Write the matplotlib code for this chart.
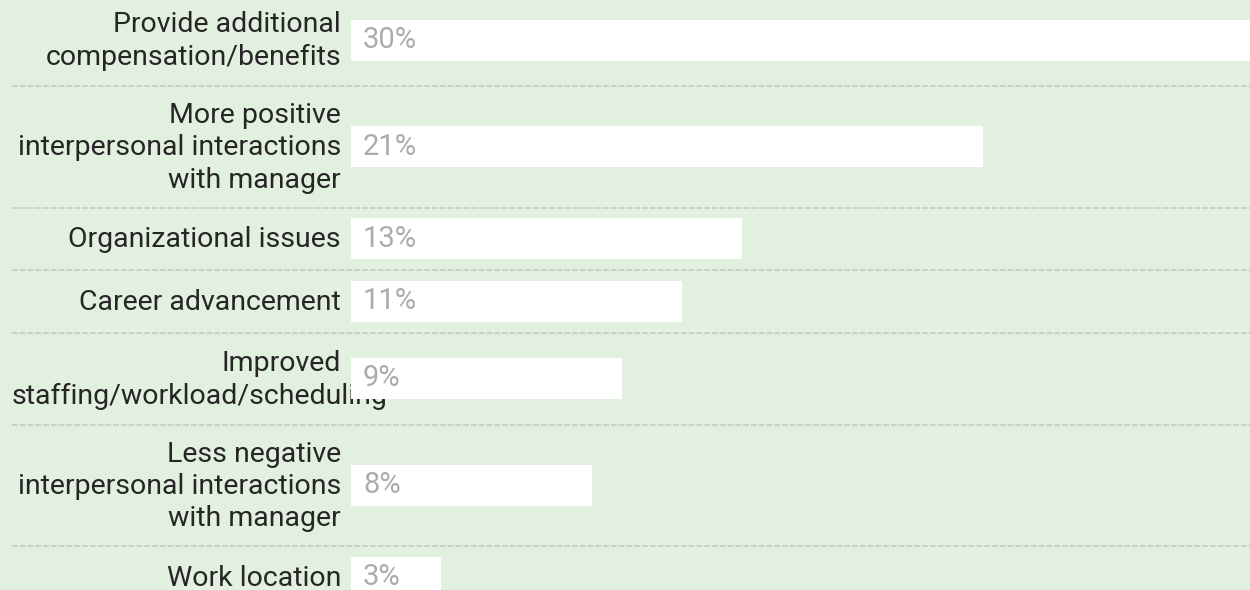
import matplotlib
matplotlib.use("Agg")
import matplotlib.pyplot as plt
from matplotlib.transforms import blended_transform_factory

# data
labels = [
    "Provide additional\ncompensation/benefits",
    "More positive\ninterpersonal interactions\nwith manager",
    "Organizational issues",
    "Career advancement",
    "Improved\nstaffing/workload/scheduling",
    "Less negative\ninterpersonal interactions\nwith manager",
    "Work location",
]
values = [30, 21, 13, 11, 9, 8, 3]
value_labels = ["30%", "21%", "13%", "11%", "9%", "8%", "3%"]

BG = "#e2f0df"
TXT = "#262626"
PCT = "#ababab"
SEP = "#c7d4c3"
FONT = ["Roboto", "DejaVu Sans"]
FS = 20.5

fig = plt.figure(figsize=(12.5, 5.9), dpi=100, facecolor=BG)
ax = fig.add_axes([0, 0, 1, 1], facecolor=BG)

# layout in pixels: row height grows with number of label lines
px_per_pct = 30.1
bar_x0 = 351
ax.set_xlim(-bar_x0 / px_per_pct, (1250 - bar_x0) / px_per_pct)
ax.set_ylim(590, 0)

line_h = 29.5
pad = 33
bar_h = 41
top = -6
centers = []
bounds = []
for lab in labels:
    n = lab.count("\n") + 1
    h = pad + line_h * n
    centers.append(top + h / 2)
    top += h
    bounds.append(top)

ax.barh(centers, values, height=bar_h, left=0, color="white", zorder=3)

tr = blended_transform_factory(ax.transAxes, ax.transData)
lab_x = 341 / 1250
for lab, c, vl in zip(labels, centers, value_labels):
    if lab.startswith("Improved"):
        # second line is wider than the label column and runs under the bar
        first, second = lab.split("\n")
        ax.text(lab_x, c - 15, first, transform=tr, ha="right", va="center",
                fontsize=FS, color=TXT, family=FONT, zorder=2)
        ax.text(12 / 1250, c + 18, second, transform=tr, ha="left", va="center",
                fontsize=FS, color=TXT, family=FONT, zorder=2)
    else:
        ax.text(lab_x, c + 1, lab, transform=tr, ha="right", va="center",
                multialignment="right", fontsize=FS, color=TXT, family=FONT,
                linespacing=1.25, zorder=2)
    ax.text(12 / px_per_pct, c, vl, ha="left", va="center",
            fontsize=21, color=PCT, family=FONT, zorder=4)

for b in bounds[:-1]:
    ax.plot([12 / 1250, 1], [b, b], transform=tr, color=SEP, lw=1.4,
            linestyle=(0, (3, 1)), zorder=1)

ax.axis("off")
fig.savefig("out.png", dpi=100, facecolor=BG)
